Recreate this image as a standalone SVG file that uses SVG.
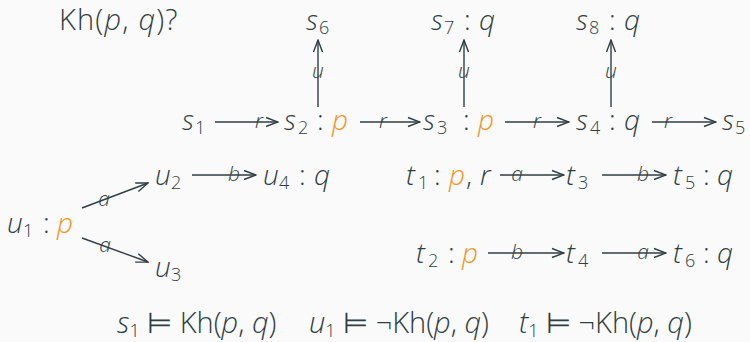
<svg xmlns="http://www.w3.org/2000/svg" width="750" height="342" viewBox="0 0 750 342">
<defs>
<style>
text{font-family:"Open Sans","Noto Sans","DejaVu Sans",sans-serif;font-weight:300;fill:#2f3e42;font-size:28px}
.i{font-style:italic}
.sub{font-size:18px;font-style:normal}
.o{fill:#f39323}
.big{font-size:29px}
.ttl{letter-spacing:1.2px}
.lbl{font-size:21px;font-style:italic;text-anchor:middle}
.c line{stroke:#2f3e42;stroke-width:1.4;fill:none;marker-end:url(#ah)}
</style>
<marker id="ah" viewBox="0 0 14 12" refX="13" refY="6" markerWidth="14" markerHeight="12" markerUnits="userSpaceOnUse" orient="auto">
<path d="M1,1.5 L13,6 L1,10.5" fill="none" stroke="#2f3e42" stroke-width="1.4"/>
</marker>
</defs>
<rect width="750" height="342" fill="#fafafa"/>

<g id="title"><text class="big ttl" y="30"><tspan x="59">Kh(</tspan><tspan class="i">p</tspan><tspan>, </tspan><tspan class="i">q</tspan><tspan>)?</tspan></text></g>

<g class="c" id="connectors">
<line x1="318" y1="107" x2="318" y2="40"/>
<line x1="464" y1="107" x2="464" y2="40"/>
<line x1="611" y1="107" x2="611" y2="40"/>
<line x1="215" y1="122" x2="278" y2="122"/>
<line x1="360" y1="122" x2="420" y2="122"/>
<line x1="505" y1="122" x2="569" y2="122"/>
<line x1="652" y1="122" x2="716" y2="122"/>
<line x1="192" y1="175" x2="256" y2="175"/>
<line x1="82" y1="208" x2="148" y2="183"/>
<line x1="82" y1="238" x2="148" y2="262"/>
<line x1="500" y1="175" x2="564" y2="175"/>
<line x1="602" y1="175" x2="666" y2="175"/>
<line x1="488" y1="253" x2="564" y2="253"/>
<line x1="602" y1="253" x2="666" y2="253"/>
<text class="lbl" x="318" y="78">u</text>
<text class="lbl" x="464" y="78">u</text>
<text class="lbl" x="611" y="78">u</text>
<text class="lbl" x="259" y="128">r</text>
<text class="lbl" x="383" y="128">r</text>
<text class="lbl" x="537" y="128">r</text>
<text class="lbl" x="668" y="128">r</text>
<text class="lbl" x="234" y="181">b</text>
<text class="lbl" x="104" y="206">a</text>
<text class="lbl" x="105" y="252">a</text>
<text class="lbl" x="517" y="181">a</text>
<text class="lbl" x="643" y="181">b</text>
<text class="lbl" x="517" y="259">b</text>
<text class="lbl" x="643" y="259">a</text>
</g>

<g id="s6"><text><tspan class="i" x="306" y="30">s</tspan><tspan class="sub" x="319" y="34">6</tspan></text></g>
<g id="s7"><text><tspan class="i" x="431" y="30">s</tspan><tspan class="sub" x="444" y="34">7</tspan><tspan x="464" y="30">:</tspan><tspan class="i" x="479" y="30">q</tspan></text></g>
<g id="s8"><text><tspan class="i" x="576" y="30">s</tspan><tspan class="sub" x="589" y="34">8</tspan><tspan x="609" y="30">:</tspan><tspan class="i" x="624" y="30">q</tspan></text></g>

<g id="s1"><text><tspan class="i" x="182" y="130">s</tspan><tspan class="sub" x="195" y="134">1</tspan></text></g>
<g id="s2"><text><tspan class="i" x="284" y="130">s</tspan><tspan class="sub" x="298" y="134">2</tspan><tspan x="317" y="130">:</tspan><tspan class="i o" x="332" y="130">p</tspan></text></g>
<g id="s3"><text><tspan class="i" x="423" y="130">s</tspan><tspan class="sub" x="437" y="134">3</tspan><tspan x="463" y="130">:</tspan><tspan class="i o" x="478" y="130">p</tspan></text></g>
<g id="s4"><text><tspan class="i" x="576" y="130">s</tspan><tspan class="sub" x="590" y="134">4</tspan><tspan x="609" y="130">:</tspan><tspan class="i" x="624" y="130">q</tspan></text></g>
<g id="s5"><text><tspan class="i" x="722" y="130">s</tspan><tspan class="sub" x="735" y="134">5</tspan></text></g>

<g id="u1"><text><tspan class="i" x="7" y="233">u</tspan><tspan class="sub" x="23" y="237">1</tspan><tspan x="43" y="233">:</tspan><tspan class="i o" x="57" y="233">p</tspan></text></g>
<g id="u2"><text><tspan class="i" x="155" y="185">u</tspan><tspan class="sub" x="171" y="189">2</tspan></text></g>
<g id="u3"><text><tspan class="i" x="155" y="277">u</tspan><tspan class="sub" x="171" y="281">3</tspan></text></g>
<g id="u4"><text><tspan class="i" x="263" y="185">u</tspan><tspan class="sub" x="279" y="189">4</tspan><tspan x="299" y="185">:</tspan><tspan class="i" x="314" y="185">q</tspan></text></g>

<g id="t1"><text><tspan class="i" x="406" y="185">t</tspan><tspan class="sub" x="418" y="189">1</tspan><tspan x="434" y="185">:</tspan><tspan class="i o" x="449" y="185">p</tspan><tspan x="466" y="185">,</tspan><tspan class="i" x="480" y="185">r</tspan></text></g>
<g id="t3"><text><tspan class="i" x="566" y="185">t</tspan><tspan class="sub" x="578" y="189">3</tspan></text></g>
<g id="t5"><text><tspan class="i" x="673" y="185">t</tspan><tspan class="sub" x="685" y="189">5</tspan><tspan x="703" y="185">:</tspan><tspan class="i" x="717" y="185">q</tspan></text></g>
<g id="t2"><text><tspan class="i" x="416" y="263">t</tspan><tspan class="sub" x="428" y="267">2</tspan><tspan x="448" y="263">:</tspan><tspan class="i o" x="462" y="263">p</tspan></text></g>
<g id="t4"><text><tspan class="i" x="566" y="263">t</tspan><tspan class="sub" x="578" y="267">4</tspan></text></g>
<g id="t6"><text><tspan class="i" x="673" y="263">t</tspan><tspan class="sub" x="685" y="267">6</tspan><tspan x="703" y="263">:</tspan><tspan class="i" x="717" y="263">q</tspan></text></g>

<g id="bottom"><text class="big" y="333"><tspan class="i" x="117">s</tspan><tspan class="sub" dy="4">1</tspan><tspan dy="-4"> ⊨ Kh(</tspan><tspan class="i">p</tspan><tspan>, </tspan><tspan class="i">q</tspan><tspan>)</tspan><tspan class="i" x="309">u</tspan><tspan class="sub" dy="4">1</tspan><tspan dy="-4"> ⊨ ¬Kh(</tspan><tspan class="i">p</tspan><tspan>, </tspan><tspan class="i">q</tspan><tspan>)</tspan><tspan class="i" x="519">t</tspan><tspan class="sub" dy="4">1</tspan><tspan dy="-4"> ⊨ ¬Kh(</tspan><tspan class="i">p</tspan><tspan>, </tspan><tspan class="i">q</tspan><tspan>)</tspan></text></g>
</svg>
